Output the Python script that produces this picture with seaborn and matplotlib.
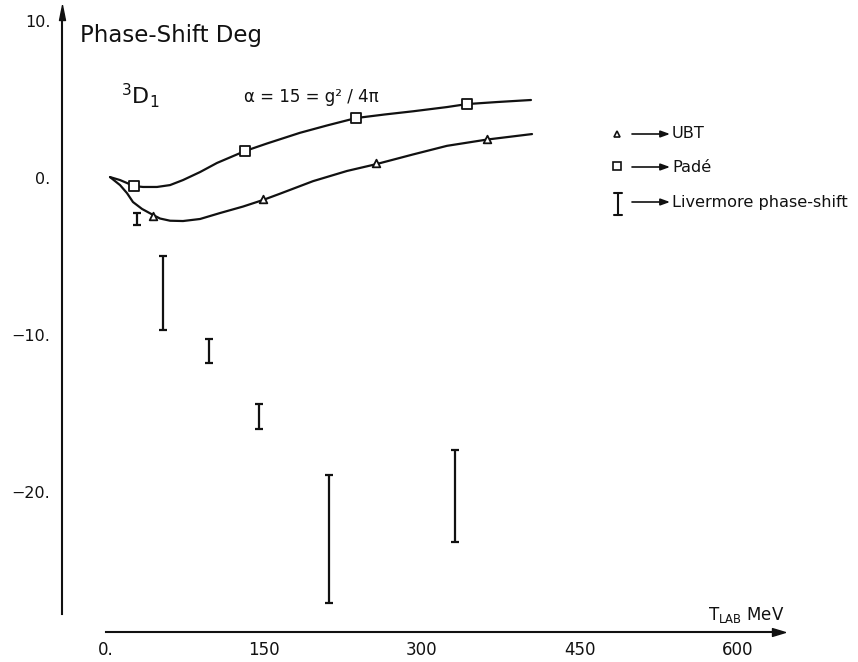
import matplotlib
matplotlib.use("Agg")
import matplotlib.pyplot as plt
import seaborn as sns
import pandas as pd

# ---- data -------------------------------------------------------------
# Padé curve (T_lab in MeV, phase shift in degrees)
pade_curve_t = [3.8, 13.3, 26.6, 35.1, 48.4, 60.8, 73.1, 89.3, 105.4, 132.0,
                152.9, 184.2, 210.0, 237.4, 265.0, 291.5, 323.8, 342.8, 371.3, 403.6]
pade_curve_delta = [0.06, -0.13, -0.51, -0.57, -0.57, -0.45, -0.13, 0.38, 0.96, 1.72,
                    2.20, 2.88, 3.35, 3.82, 4.05, 4.25, 4.52, 4.71, 4.84, 4.97]
pade_t = [26.6, 132.0, 237.4, 342.8]
pade_delta = [-0.51, 1.72, 3.82, 4.71]

# UBT curve
ubt_curve_t = [3.8, 13.3, 19.9, 25.6, 34.2, 44.6, 51.3, 60.8, 73.1, 89.3, 108.3,
               130.0, 149.1, 165.2, 196.6, 228.9, 256.4, 291.5, 323.8, 361.8, 404.6]
ubt_curve_delta = [0.06, -0.45, -0.96, -1.53, -1.97, -2.35, -2.58, -2.72, -2.74, -2.61, -2.23,
                   -1.82, -1.40, -1.00, -0.20, 0.45, 0.88, 1.50, 2.05, 2.45, 2.80]
ubt_t = [44.6, 149.1, 256.4, 361.8]
ubt_delta = [-2.42, -1.34, 0.96, 2.48]

# Livermore phase-shift ranges
liv_t = [29.4, 54.0, 98.0, 145.0, 212.0, 331.0]
liv_low = [-3.0, -9.68, -11.8, -16.0, -27.1, -23.2]
liv_high = [-2.23, -4.97, -10.25, -14.4, -18.9, -17.3]

x_ticks = [0, 150, 300, 450, 600]
x_tick_labels = ["0.", "150", "300", "450", "600"]
y_ticks = [10, 0, -10, -20]
y_tick_labels = ["10.", "0.", "\u221210.", "\u221220."]

# ---- style ------------------------------------------------------------
sns.set_style("white")
plt.rcParams["font.family"] = ["DejaVu Sans"]
INK = "#111111"

W, H = 858, 662
fig = plt.figure(figsize=(W / 100, H / 100), dpi=100)
ax = fig.add_axes([0, 0, 1, 1])
ax.set_xlim(-100.7, 714.2)
ax.set_ylim(-30.83, 11.34)
ax.patch.set_alpha(0)


def fx(px):
    return px / W


def fy(py):
    return 1 - py / H


# curves
sns.lineplot(x=pade_curve_t, y=pade_curve_delta, sort=False, estimator=None,
             color=INK, lw=1.6, ax=ax)
sns.lineplot(x=ubt_curve_t, y=ubt_curve_delta, sort=False, estimator=None,
             color=INK, lw=1.6, ax=ax)

# markers
sns.scatterplot(x=pade_t, y=pade_delta, marker="s", s=55, facecolor="white",
                edgecolor=INK, linewidth=1.3, ax=ax, zorder=5)
sns.scatterplot(x=ubt_t, y=ubt_delta, marker="^", s=30, facecolor="white",
                edgecolor=INK, linewidth=1.3, ax=ax, zorder=5)

# Livermore error bars
liv = pd.DataFrame({"t": liv_t, "lo": liv_low, "hi": liv_high})
liv["mid"] = (liv["lo"] + liv["hi"]) / 2
liv["err"] = (liv["hi"] - liv["lo"]) / 2
ax.errorbar(liv["t"], liv["mid"], yerr=liv["err"], fmt="none", ecolor=INK,
            elinewidth=1.6, capsize=3, capthick=1.6)

# ---- axes -------------------------------------------------------------
for s in ["top", "right"]:
    ax.spines[s].set_visible(False)
ax.spines["left"].set_position(("data", -41.8))
ax.spines["bottom"].set_position(("data", -28.9))
ax.spines["left"].set_bounds(-27.8, 10.6)
ax.spines["bottom"].set_bounds(0, 640)
for s in ["left", "bottom"]:
    ax.spines[s].set_linewidth(1.5)
    ax.spines[s].set_color(INK)

ax.set_xticks(x_ticks)
ax.set_xticklabels(x_tick_labels)
ax.set_yticks(y_ticks)
ax.set_yticklabels(y_tick_labels)
ax.tick_params(axis="y", direction="out", length=4.3, width=1.3, pad=4,
               labelsize=11.5, colors=INK)
ax.tick_params(axis="x", direction="in", length=4.3, width=1.1, pad=7,
               labelsize=12, colors=INK)
ax.grid(False)

# axis arrowheads
up_head = [(0, 0), (-0.2, -1), (0.2, -1), (0, 0)]
right_head = [(0, 0), (-1, 0.3), (-1, -0.3), (0, 0)]
ax.plot([-41.8], [11.02], marker=up_head, markersize=21.6, color=INK,
        clip_on=False)
ax.plot([644.8], [-28.9], marker=right_head, markersize=18.7, color=INK,
        clip_on=False)

# ---- texts ------------------------------------------------------------
fig.text(fx(80), fy(42), "Phase-Shift Deg", fontsize=16.5, color=INK,
         ha="left", va="baseline")
fig.text(fx(121), fy(104), r"$^{3}\mathrm{D}_{1}$", fontsize=16, color=INK,
         ha="left", va="baseline")
fig.text(fx(244), fy(102), "\u03b1 = 15 = g\u00b2 / 4\u03c0", fontsize=12,
         color=INK, ha="left", va="baseline")
fig.text(fx(708), fy(620), r"$\mathrm{T}_{\mathrm{LAB}}$ MeV", fontsize=12,
         color=INK, ha="left", va="baseline")

# ---- key ---------------------------------------------------------------
key_rows = [134, 167, 202]
key_labels = ["UBT", "Padé", "Livermore phase-shift"]
ax.plot([fx(617)], [fy(134)], marker="^", markersize=5, mfc="white",
        mec=INK, mew=1.2, transform=fig.transFigure, clip_on=False)
ax.plot([fx(617)], [fy(166)], marker="s", markersize=6, mfc="white",
        mec=INK, mew=1.2, transform=fig.transFigure, clip_on=False)
ax.plot([fx(618), fx(618)], [fy(193), fy(215)], color=INK, lw=1.5,
        transform=fig.transFigure, clip_on=False)
for yy in (193, 215):
    ax.plot([fx(614), fx(622)], [fy(yy), fy(yy)], color=INK, lw=1.5,
            transform=fig.transFigure, clip_on=False)
for row, lab in zip(key_rows, key_labels):
    ax.annotate("", xy=(fx(670), fy(row)), xytext=(fx(632), fy(row)),
                xycoords="figure fraction", textcoords="figure fraction",
                arrowprops=dict(arrowstyle="-|>,head_length=0.55,head_width=0.2",
                                color=INK, lw=1.2, shrinkA=0, shrinkB=0))
    fig.text(fx(672), fy(row), lab, fontsize=11.6, color=INK,
             ha="left", va="center")

fig.savefig("out.png", dpi=100, facecolor="white")
